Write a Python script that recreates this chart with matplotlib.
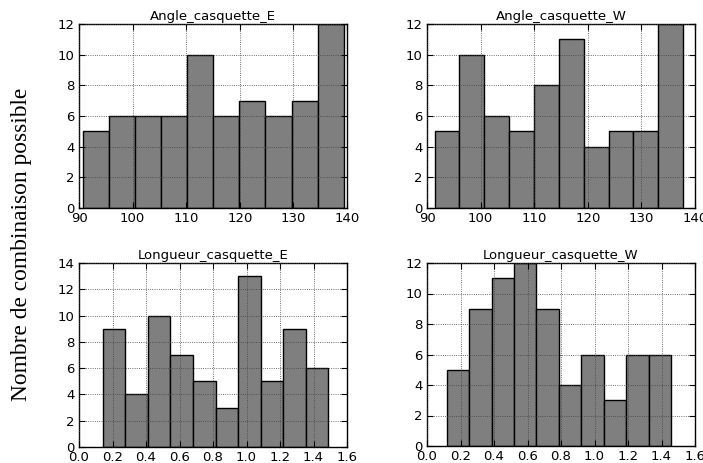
import numpy as np
import matplotlib
matplotlib.use("Agg")
import matplotlib.pyplot as plt

titles = ["Angle_casquette_E", "Angle_casquette_W", "Longueur_casquette_E", "Longueur_casquette_W"]
counts_angle_E = [5, 6, 6, 6, 10, 6, 7, 6, 7, 12]
counts_angle_W = [5, 10, 6, 5, 8, 11, 4, 5, 5, 12]
counts_long_E = [9, 4, 10, 7, 5, 3, 13, 5, 9, 6]
counts_long_W = [5, 9, 11, 12, 9, 4, 6, 3, 6, 6]
ranges = [(90.7, 139.4), (91.4, 137.8), (0.141, 1.489), (0.1175, 1.458)]
xlims = [(90, 140), (90, 140), (0.0, 1.6), (0.0, 1.6)]
ylims = [12, 12, 14, 12]
xtick_sets = [[90, 100, 110, 120, 130, 140], [90, 100, 110, 120, 130, 140],
              [0.0, 0.2, 0.4, 0.6, 0.8, 1.0, 1.2, 1.4, 1.6], [0.0, 0.2, 0.4, 0.6, 0.8, 1.0, 1.2, 1.4, 1.6]]
ylabel = "Nombre de combinaison possible"

all_counts = [counts_angle_E, counts_angle_W, counts_long_E, counts_long_W]

W, H = 703, 463
fig = plt.figure(figsize=(W / 100, H / 100), dpi=100)
boxes = [(79, 347, 24, 208), (427, 695, 24, 208), (79, 347, 263, 447), (427, 695, 263, 446)]

for i in range(4):
    l, r, t, b = boxes[i]
    ax = fig.add_axes([l / W, 1 - b / H, (r - l) / W, (b - t) / H])
    lo, hi = ranges[i]
    edges = np.linspace(lo, hi, len(all_counts[i]) + 1)
    centers = (edges[:-1] + edges[1:]) / 2
    ax.hist(centers, bins=edges, weights=all_counts[i], color="#7f7f7f",
            edgecolor="black", linewidth=1.0, zorder=2)
    ax.set_xlim(*xlims[i])
    ax.set_ylim(0, ylims[i])
    ax.set_xticks(xtick_sets[i])
    if i >= 2:
        ax.set_xticklabels(["%.1f" % v for v in xtick_sets[i]])
    ax.set_yticks(np.arange(0, ylims[i] + 1, 2))
    ax.grid(True, linestyle=":", color="0.25", linewidth=0.6, zorder=3)
    ax.set_axisbelow(False)
    ax.tick_params(direction="in", top=True, right=True, labelsize=9.5, length=4, pad=3)
    for s in ax.spines.values():
        s.set_linewidth(1.0)
    ax.set_title(titles[i], fontsize=9.5, pad=3)

fig.text(22 / W, 1 - 244 / H, ylabel, rotation=90, ha="center", va="center",
         fontsize=16.8, family="Liberation Serif")

fig.savefig("out.png", dpi=100)
